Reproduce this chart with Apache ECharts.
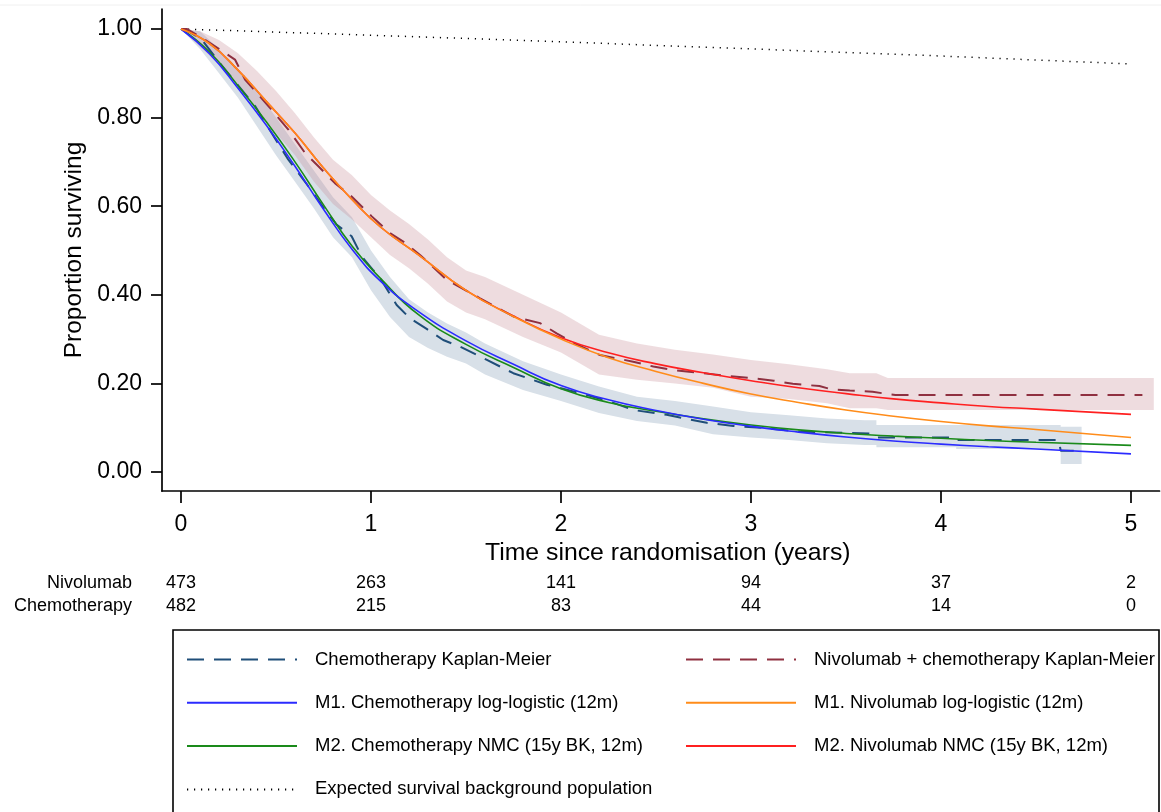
<!DOCTYPE html>
<html>
<head>
<meta charset="utf-8">
<script src="https://cdn.jsdelivr.net/npm/echarts@6/dist/echarts.min.js"></script>
<style>
  html, body { margin: 0; padding: 0; background: #fff; }
  #chart { width: 1161px; height: 812px; }
</style>
</head>
<body>
<div id="chart"></div>
<script>
  // number at risk table
  const riskTimes = [0, 1, 2, 3, 4, 5];
  const nivoAtRisk = [473, 263, 141, 94, 37, 2];
  const chemoAtRisk = [482, 215, 83, 44, 14, 0];
  const yTicks = [0, 0.2, 0.4, 0.6, 0.8, 1];

  // chemotherapy Kaplan-Meier (repeated times = visible drops)
  const chemoKmTime = [0, 0.02, 0.109, 0.232, 0.39, 0.477, 0.565, 0.67, 0.758, 0.82, 0.898, 0.951, 1.01, 1.03, 1.135, 1.205, 1.293, 1.38, 1.468, 1.61, 1.749, 1.925, 2.1, 2.258, 2.38, 2.556, 2.767, 2.907, 3.08, 3.258, 3.433, 3.62, 3.64, 3.66, 4.07, 4.08, 4.62, 4.63, 4.74];
  const chemoKmSurv = [1, 1, 0.976, 0.908, 0.826, 0.765, 0.705, 0.645, 0.592, 0.558, 0.532, 0.487, 0.456, 0.45, 0.377, 0.347, 0.323, 0.298, 0.283, 0.253, 0.223, 0.197, 0.178, 0.159, 0.14, 0.129, 0.111, 0.104, 0.099, 0.091, 0.089, 0.087, 0.08, 0.078, 0.078, 0.072, 0.072, 0.048, 0.048];

  // nivolumab + chemotherapy Kaplan-Meier
  const nivoKmTime = [0, 0.03, 0.126, 0.284, 0.337, 0.46, 0.565, 0.653, 0.723, 0.81, 0.898, 1.004, 1.1, 1.17, 1.258, 1.398, 1.574, 1.749, 1.89, 1.977, 2.083, 2.205, 2.38, 2.486, 2.61, 2.73, 2.87, 3.0, 3.12, 3.22, 3.36, 3.42, 3.52, 3.64, 3.72, 3.76, 5.06];
  const nivoKmSurv = [1, 1, 0.976, 0.931, 0.886, 0.826, 0.773, 0.72, 0.69, 0.652, 0.622, 0.577, 0.539, 0.52, 0.49, 0.434, 0.392, 0.351, 0.336, 0.313, 0.288, 0.264, 0.249, 0.238, 0.229, 0.224, 0.217, 0.212, 0.206, 0.199, 0.194, 0.187, 0.184, 0.181, 0.176, 0.174, 0.174];

  // confidence bands
  const chemoBandTime = [0, 0.1, 0.2, 0.3, 0.4, 0.5, 0.6, 0.7, 0.8, 0.9, 1.0, 1.1, 1.2, 1.3, 1.4, 1.5, 1.6, 1.8, 2.0, 2.2, 2.4, 2.6, 2.8, 3.0, 3.2, 3.4, 3.6, 3.66, 3.66, 4.08, 4.08, 4.63, 4.63, 4.74];
  const chemoBandHigh = [1, 0.995, 0.955, 0.91, 0.86, 0.8, 0.74, 0.68, 0.62, 0.575, 0.5, 0.44, 0.39, 0.36, 0.335, 0.315, 0.29, 0.25, 0.22, 0.193, 0.17, 0.16, 0.148, 0.135, 0.128, 0.121, 0.117, 0.117, 0.106, 0.106, 0.106, 0.106, 0.102, 0.102];
  const chemoBandLow = [1, 0.955, 0.9, 0.845, 0.78, 0.715, 0.655, 0.595, 0.53, 0.485, 0.41, 0.35, 0.305, 0.28, 0.26, 0.245, 0.22, 0.185, 0.16, 0.133, 0.115, 0.105, 0.085, 0.078, 0.072, 0.065, 0.061, 0.061, 0.056, 0.056, 0.052, 0.052, 0.018, 0.018];

  const nivoBandTime = [0, 0.1, 0.2, 0.3, 0.4, 0.5, 0.6, 0.7, 0.8, 0.9, 1.0, 1.1, 1.2, 1.3, 1.4, 1.5, 1.6, 1.8, 2.0, 2.2, 2.4, 2.6, 2.8, 3.0, 3.2, 3.4, 3.52, 3.66, 3.72, 5.12];
  const nivoBandHigh = [1, 0.995, 0.975, 0.945, 0.905, 0.86, 0.81, 0.755, 0.705, 0.67, 0.625, 0.59, 0.56, 0.525, 0.485, 0.455, 0.44, 0.4, 0.36, 0.31, 0.29, 0.276, 0.265, 0.253, 0.243, 0.232, 0.223, 0.223, 0.212, 0.212];
  const nivoBandLow = [1, 0.96, 0.92, 0.875, 0.82, 0.765, 0.715, 0.655, 0.605, 0.57, 0.53, 0.49, 0.46, 0.425, 0.385, 0.36, 0.345, 0.305, 0.27, 0.22, 0.208, 0.2, 0.19, 0.17, 0.165, 0.155, 0.144, 0.144, 0.14, 0.14];

  // fitted models
  const fitTime = [0, 0.15, 0.3, 0.45, 0.6, 0.75, 0.9, 1.05, 1.25, 1.5, 1.75, 2.0, 2.25, 2.5, 2.75, 3.0, 3.25, 3.5, 3.75, 4.0, 4.25, 4.5, 5.0];
  const chemoLogLogistic = [1, 0.944, 0.866, 0.782, 0.69, 0.593, 0.503, 0.431, 0.362, 0.296, 0.243, 0.195, 0.163, 0.139, 0.119, 0.103, 0.09, 0.079, 0.07, 0.063, 0.057, 0.052, 0.041];
  const chemoNmc = [1, 0.948, 0.872, 0.79, 0.7, 0.603, 0.51, 0.437, 0.355, 0.288, 0.236, 0.188, 0.157, 0.137, 0.12, 0.106, 0.095, 0.087, 0.081, 0.076, 0.071, 0.067, 0.06];
  const nivoLogLogistic = [1, 0.967, 0.907, 0.836, 0.765, 0.686, 0.615, 0.553, 0.49, 0.41, 0.351, 0.3, 0.258, 0.227, 0.2, 0.176, 0.157, 0.14, 0.126, 0.114, 0.104, 0.096, 0.078];
  const nivoNmc = [1, 0.967, 0.907, 0.836, 0.765, 0.686, 0.615, 0.553, 0.49, 0.41, 0.352, 0.303, 0.269, 0.244, 0.224, 0.206, 0.19, 0.177, 0.165, 0.156, 0.148, 0.142, 0.13];

  // expected survival, background population
  const expTime = [0, 1, 2, 3, 4, 5];
  const expSurv = [1, 0.986, 0.971, 0.955, 0.939, 0.921];

  const FONT = "'Liberation Sans', Arial, sans-serif";
  const pairs = (xs, ys) => xs.map((x, i) => [x, ys[i]]);

  function band(t, lo, hi, color) {
    return {
      type: 'custom',
      silent: true,
      data: [[t[0], hi[0]]],
      renderItem: (params, api) => {
        const pts = [];
        for (let i = 0; i < t.length; i++) pts.push(api.coord([t[i], hi[i]]));
        for (let i = t.length - 1; i >= 0; i--) pts.push(api.coord([t[i], lo[i]]));
        return { type: 'polygon', shape: { points: pts }, style: { fill: color } };
      }
    };
  }

  function curve(name, xs, ys, color, extra) {
    return Object.assign({
      name: name,
      type: 'line',
      data: pairs(xs, ys),
      symbol: 'none',
      showSymbol: false,
      silent: true,
      lineStyle: { color: color, width: 1.6 },
      itemStyle: { color: color }
    }, extra || {});
  }

  const axisLine = { show: true, onZero: false, lineStyle: { color: '#000', width: 1.7 } };

  function riskAxis(label, counts, offset) {
    return {
      type: 'value', min: -0.1, max: 5.15, position: 'bottom', offset: offset,
      axisLine: { show: false, onZero: false }, axisTick: { show: false }, splitLine: { show: false },
      axisLabel: {
        customValues: riskTimes, margin: 0, verticalAlign: 'middle',
        fontSize: 18, color: '#000', fontFamily: FONT,
        formatter: v => String(counts[riskTimes.indexOf(Math.round(v))])
      },
      name: label, nameLocation: 'start', nameGap: 30,
      nameTextStyle: { fontSize: 18, color: '#000', fontFamily: FONT }
    };
  }

  const legendText = { fontSize: 18.5, color: '#000', fontFamily: FONT, padding: [0, 0, 0, 13], lineHeight: 18 };
  const smoothFit = { smooth: 0.5 };

  const chart = echarts.init(document.getElementById('chart'));
  chart.setOption({
    animation: false,
    backgroundColor: '#fff',
    textStyle: { fontFamily: FONT },
    grid: { left: 162, top: 9, width: 997.5, height: 482 },
    xAxis: [
      {
        type: 'value', min: -0.1, max: 5.15, position: 'bottom',
        axisLine: axisLine,
        axisTick: { show: true, length: 12, customValues: riskTimes, lineStyle: { color: '#000', width: 1.7 } },
        axisLabel: { customValues: riskTimes, fontSize: 23, color: '#000', margin: 22 },
        splitLine: { show: false },
        name: 'Time since randomisation (years)', nameLocation: 'middle', nameGap: 44,
        nameTextStyle: { fontSize: 24.8, color: '#000', padding: [0, 0, 0, 14] }
      },
      riskAxis('Nivolumab', nivoAtRisk, 92),
      riskAxis('Chemotherapy', chemoAtRisk, 115)
    ],
    yAxis: {
      type: 'value', min: -0.0429, max: 1.0451,
      axisLine: axisLine,
      axisTick: { show: true, length: 11, customValues: yTicks, lineStyle: { color: '#000', width: 1.7 } },
      axisLabel: { customValues: yTicks, fontSize: 23, color: '#000', margin: 20, formatter: v => v.toFixed(2) },
      splitLine: { show: false },
      name: 'Proportion surviving', nameLocation: 'middle', nameGap: 74,
      nameTextStyle: { fontSize: 24.5, color: '#000' }
    },
    legend: [
      {
        orient: 'vertical', left: 186, top: 650, padding: 0,
        itemWidth: 110, itemHeight: 14, itemGap: 24.3, selectedMode: false,
        itemStyle: { opacity: 0 },
        textStyle: legendText,
        data: ['Chemotherapy Kaplan-Meier', 'M1. Chemotherapy log-logistic (12m)', 'M2. Chemotherapy NMC (15y BK, 12m)', 'Expected survival background population']
      },
      {
        orient: 'vertical', left: 685, top: 650, padding: 0,
        itemWidth: 110, itemHeight: 14, itemGap: 24.3, selectedMode: false,
        itemStyle: { opacity: 0 },
        textStyle: legendText,
        data: ['Nivolumab + chemotherapy Kaplan-Meier', 'M1. Nivolumab log-logistic (12m)', 'M2. Nivolumab NMC (15y BK, 12m)']
      }
    ],
    graphic: [
      { type: 'line', shape: { x1: 0, y1: 5, x2: 1161, y2: 5 }, style: { stroke: '#f0f0f0', lineWidth: 1 }, silent: true },
      { type: 'rect', shape: { x: 173, y: 630, width: 986, height: 200 }, style: { fill: 'none', stroke: '#000', lineWidth: 1.6 }, silent: true }
    ],
    series: [
      band(chemoBandTime, chemoBandLow, chemoBandHigh, '#d8e0e8'),
      band(nivoBandTime, nivoBandLow, nivoBandHigh, 'rgba(200,140,150,0.3)'),
      curve('Expected survival background population', expTime, expSurv, '#000',
        { lineStyle: { color: '#000', width: 1.5, type: [1.2, 5.8] } }),
      curve('Chemotherapy Kaplan-Meier', chemoKmTime, chemoKmSurv, '#1f4e79',
        { lineStyle: { color: '#1f4e79', width: 2, type: [17, 10] } }),
      curve('Nivolumab + chemotherapy Kaplan-Meier', nivoKmTime, nivoKmSurv, '#8f3040',
        { lineStyle: { color: '#8f3040', width: 2, type: [17, 10] } }),
      curve('M2. Chemotherapy NMC (15y BK, 12m)', fitTime, chemoNmc, '#1a8a1a', smoothFit),
      curve('M1. Chemotherapy log-logistic (12m)', fitTime, chemoLogLogistic, '#2b2bff', smoothFit),
      curve('M2. Nivolumab NMC (15y BK, 12m)', fitTime, nivoNmc, '#ff2020', smoothFit),
      curve('M1. Nivolumab log-logistic (12m)', fitTime, nivoLogLogistic, '#ff8c1a', smoothFit)
    ]
  });
</script>
</body>
</html>
